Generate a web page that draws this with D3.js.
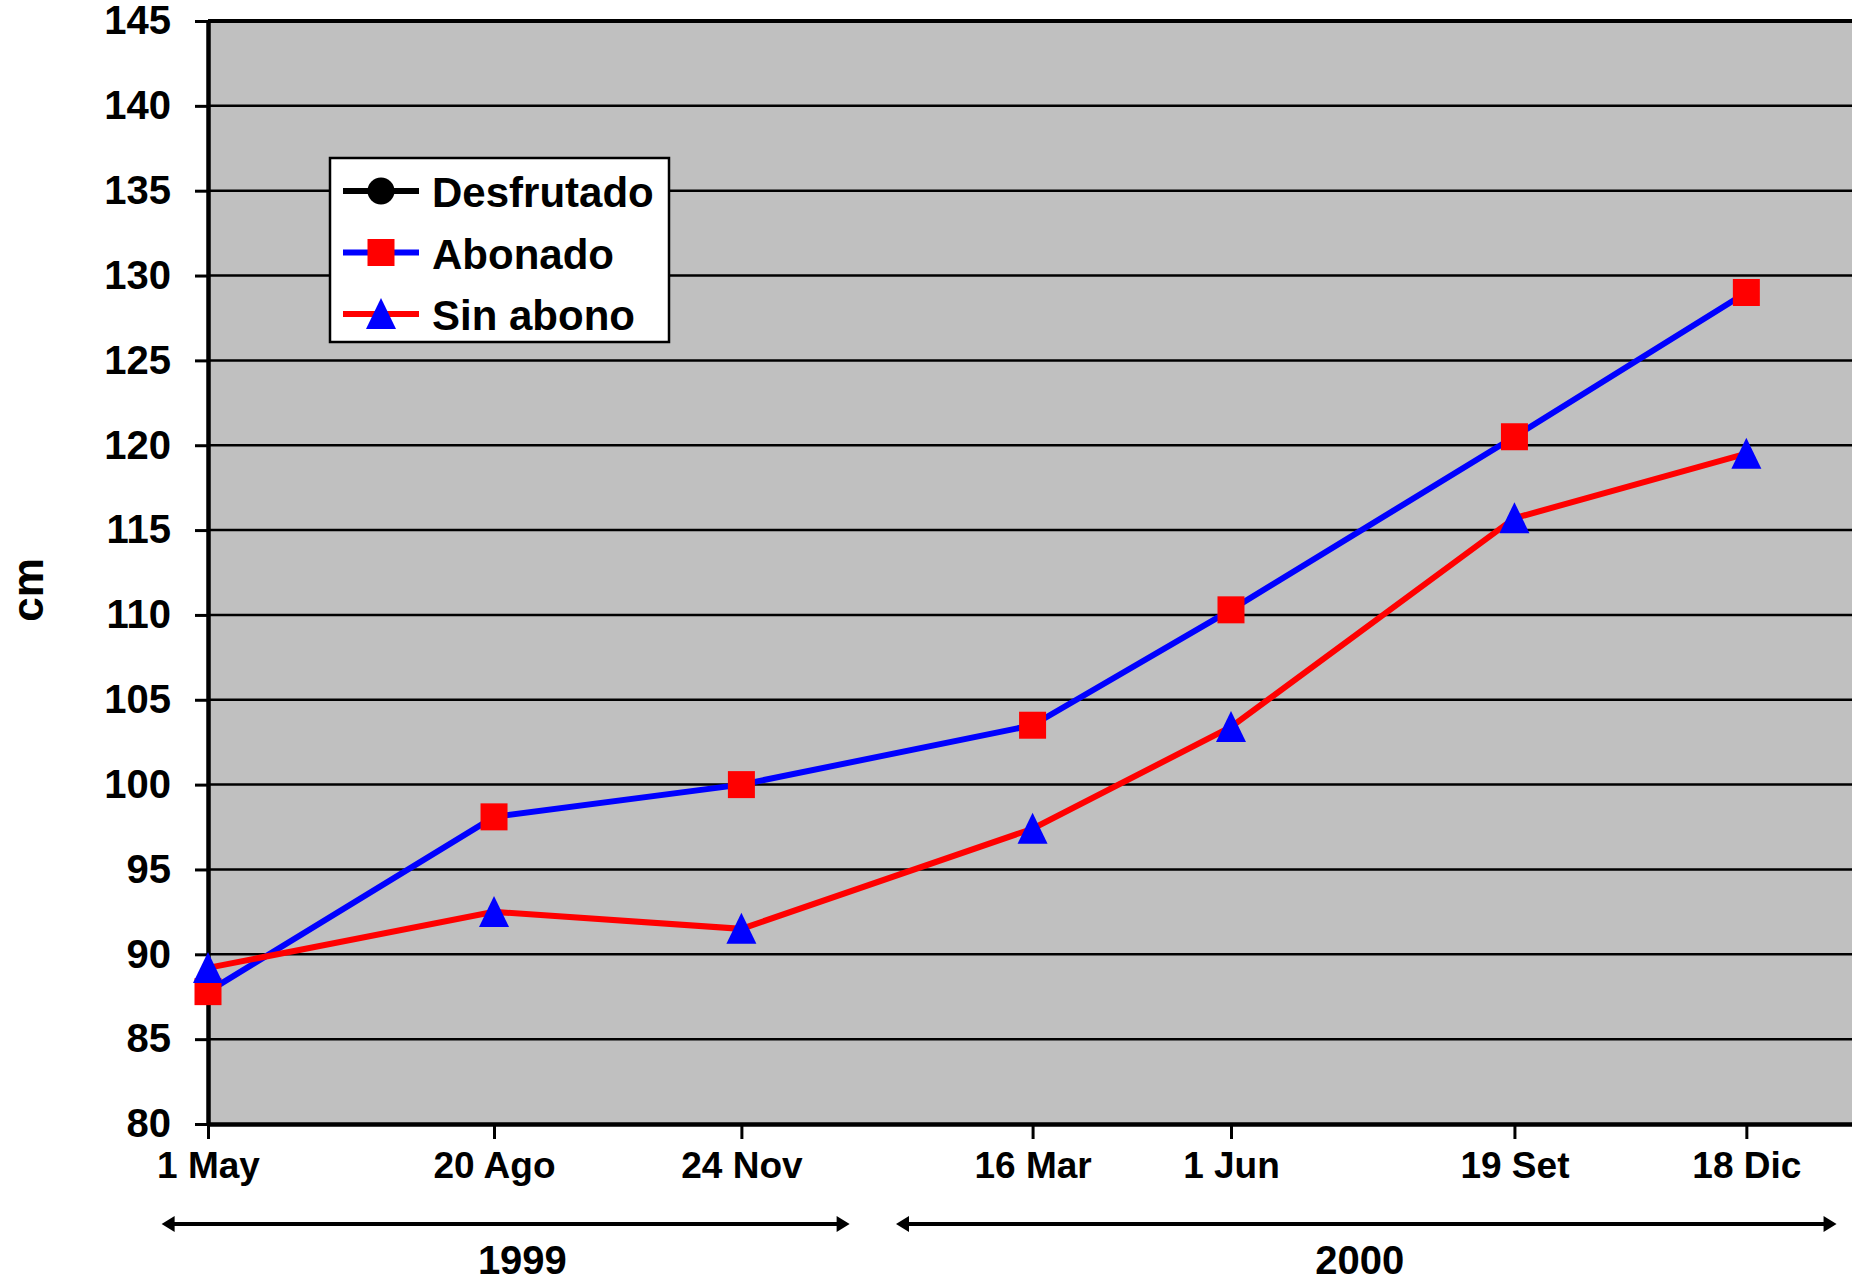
<!DOCTYPE html>
<html>
<head>
<meta charset="utf-8">
<script src="https://d3js.org/d3.v7.min.js"></script>
<style>
  body { margin: 0; background: #fff; }
  svg { display: block; font-family: "Liberation Sans", Arial, sans-serif; font-weight: bold; }
</style>
</head>
<body>
<div id="chart"></div>
<script>
// fechas de medicion
var fechas = ["1999-05-01", "1999-08-20", "1999-11-24", "2000-03-16", "2000-06-01", "2000-09-19", "2000-12-18"];
var etiquetas = ["1 May", "20 Ago", "24 Nov", "16 Mar", "1 Jun", "19 Set", "18 Dic"];

// altura (cm)
var desfrutado = [];  // no aparece en el grafico, solo en la leyenda
var abonado = [87.8, 98.1, 100.0, 103.5, 110.3, 120.5, 129.0];
var sinAbono = [89.2, 92.5, 91.5, 97.4, 103.4, 115.7, 119.5];

var yTicks = [80, 85, 90, 95, 100, 105, 110, 115, 120, 125, 130, 135, 140, 145];
var xDominio = ["1999-05-01", "2001-01-28"];

var anios = [
  { label: "1999", desde: "1999-04-13", hasta: "2000-01-05", centro: "1999-08-31" },
  { label: "2000", desde: "2000-01-23", hasta: "2001-01-22", centro: "2000-07-21" }
];

var width = 1852, height = 1280;
var mLeft = 208, mTop = 21, mRight = 1852, mBottom = 1124;

var parse = d3.timeParse("%Y-%m-%d");

var svg = d3.select("#chart").append("svg")
  .attr("width", width)
  .attr("height", height);

var x = d3.scaleTime()
  .domain(xDominio.map(parse))
  .range([mLeft, mRight]);

var y = d3.scaleLinear()
  .domain([80, 145])
  .range([mBottom, mTop]);

// fondo gris
svg.append("rect")
  .attr("x", mLeft).attr("y", mTop)
  .attr("width", mRight - mLeft).attr("height", mBottom - mTop)
  .attr("fill", "#c0c0c0");

// lineas de division
svg.append("g")
  .selectAll("line")
  .data(yTicks.filter(d => d > 80))
  .enter().append("line")
  .attr("x1", mLeft).attr("x2", mRight)
  .attr("y1", d => y(d)).attr("y2", d => y(d))
  .attr("stroke", "#000")
  .attr("stroke-width", d => d == 145 ? 4 : 2.5);

// eje Y
var yAxis = svg.append("g")
  .attr("transform", "translate(" + mLeft + ",0)")
  .call(d3.axisLeft(y).tickValues(yTicks).tickSize(13).tickPadding(24).tickSizeOuter(0));
yAxis.select(".domain").attr("stroke", "#000").attr("stroke-width", 4.5);
yAxis.selectAll(".tick line").attr("stroke", "#000").attr("stroke-width", 3);
yAxis.selectAll(".tick text")
  .attr("fill", "#000")
  .style("font-size", "40px")
  .style("font-family", "'Liberation Sans', Arial, sans-serif")
  .style("font-weight", "bold");

// eje X
var xAxis = svg.append("g")
  .attr("transform", "translate(0," + mBottom + ")")
  .call(d3.axisBottom(x)
    .tickValues(fechas.map(parse))
    .tickFormat((d, i) => etiquetas[i])
    .tickSize(15).tickPadding(13).tickSizeOuter(0));
xAxis.select(".domain").attr("stroke", "#000").attr("stroke-width", 4.5);
xAxis.selectAll(".tick line").attr("stroke", "#000").attr("stroke-width", 3);
xAxis.selectAll(".tick text")
  .attr("fill", "#000")
  .style("font-size", "37px")
  .style("font-family", "'Liberation Sans', Arial, sans-serif")
  .style("font-weight", "bold");

// titulo eje Y
svg.append("text")
  .attr("transform", "translate(43,590) rotate(-90)")
  .attr("text-anchor", "middle")
  .style("font-size", "44px")
  .text("cm");

// series
var line = d3.line()
  .x((d, i) => x(parse(fechas[i])))
  .y(d => y(d));

svg.append("path")
  .attr("d", line(abonado))
  .attr("fill", "none")
  .attr("stroke", "#0000ff")
  .attr("stroke-width", 6);

svg.append("path")
  .attr("d", line(sinAbono))
  .attr("fill", "none")
  .attr("stroke", "#ff0000")
  .attr("stroke-width", 6);

var cuadrado = d3.symbol().type(d3.symbolSquare).size(27 * 27);
var triangulo = "M0,-16L15,15L-15,15Z";

svg.append("g")
  .selectAll("path")
  .data(abonado)
  .enter().append("path")
  .attr("transform", (d, i) => "translate(" + x(parse(fechas[i])) + "," + y(d) + ")")
  .attr("d", cuadrado)
  .attr("fill", "#ff0000");

svg.append("g")
  .selectAll("path")
  .data(sinAbono)
  .enter().append("path")
  .attr("transform", (d, i) => "translate(" + x(parse(fechas[i])) + "," + y(d) + ")")
  .attr("d", triangulo)
  .attr("fill", "#0000ff");

// leyenda
var leg = svg.append("g").attr("transform", "translate(330,158)");
leg.append("rect")
  .attr("width", 339).attr("height", 184)
  .attr("fill", "#fff")
  .attr("stroke", "#000")
  .attr("stroke-width", 2.5);

var items = [
  { name: "Desfrutado", line: "#000", mark: "circle", fill: "#000" },
  { name: "Abonado", line: "#0000ff", mark: "square", fill: "#ff0000" },
  { name: "Sin abono", line: "#ff0000", mark: "triangle", fill: "#0000ff" }
];

items.forEach((it, i) => {
  var cy = 33 + i * 61.5;
  var g = leg.append("g").attr("transform", "translate(0," + cy + ")");
  g.append("line")
    .attr("x1", 13).attr("x2", 89)
    .attr("stroke", it.line)
    .attr("stroke-width", 6);
  var m = g.append("path")
    .attr("transform", "translate(51,0)")
    .attr("fill", it.fill);
  if (it.mark == "circle") m.attr("d", d3.symbol().type(d3.symbolCircle).size(Math.PI * 13.5 * 13.5));
  else if (it.mark == "square") m.attr("d", cuadrado);
  else m.attr("d", triangulo);
  g.append("text")
    .attr("x", 102).attr("y", 16)
    .style("font-size", "42px")
    .text(it.name);
});

// flechas de los anios
var flechas = svg.append("g");
anios.forEach(a => {
  var x1 = x(parse(a.desde)), x2 = x(parse(a.hasta)), yy = 1224;
  flechas.append("line")
    .attr("x1", x1 + 8).attr("x2", x2 - 8)
    .attr("y1", yy).attr("y2", yy)
    .attr("stroke", "#000").attr("stroke-width", 4);
  flechas.append("path")
    .attr("d", "M" + x1 + "," + yy + "l13,-8l0,16Z")
    .attr("fill", "#000");
  flechas.append("path")
    .attr("d", "M" + x2 + "," + yy + "l-13,-8l0,16Z")
    .attr("fill", "#000");
  flechas.append("text")
    .attr("x", x(parse(a.centro)))
    .attr("y", 1274)
    .attr("text-anchor", "middle")
    .style("font-size", "40px")
    .text(a.label);
});
</script>
</body>
</html>
